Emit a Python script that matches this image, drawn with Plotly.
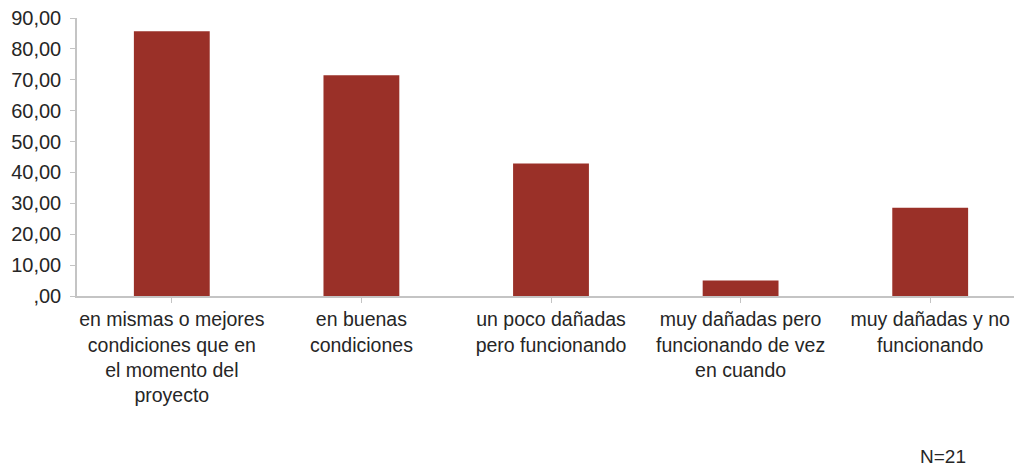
import plotly.graph_objects as go

categories = [
    "en mismas o mejores<br>condiciones que en<br>el momento del<br>proyecto",
    "en buenas<br>condiciones",
    "un poco dañadas<br>pero funcionando",
    "muy dañadas pero<br>funcionando de vez<br>en cuando",
    "muy dañadas y no<br>funcionando",
]
values = [85.71, 71.43, 42.86, 5.0, 28.57]
y_tickvals = [0, 10, 20, 30, 40, 50, 60, 70, 80, 90]
y_ticktext = [",00", "10,00", "20,00", "30,00", "40,00", "50,00", "60,00", "70,00", "80,00", "90,00"]
note = "N=21"

FONT = "Liberation Sans, Arial, sans-serif"

L, T = 77, 18
PLOT_H = 277.7
W, H = 1014, 466
B = H - T - PLOT_H
PLOT_W = W - L

fig = go.Figure(
    go.Bar(
        x=list(range(len(categories))),
        y=values,
        marker=dict(color="#9a3028", line=dict(width=0)),
        width=0.4,
    )
)

fig.update_layout(
    width=W,
    height=H,
    margin=dict(l=L, r=0, t=T, b=B),
    paper_bgcolor="white",
    plot_bgcolor="white",
    showlegend=False,
    font=dict(family=FONT, color="#262626"),
)

fig.update_xaxes(
    range=[-0.5, -0.5 + PLOT_W / 189.6],
    tickmode="array",
    tickvals=list(range(len(categories))),
    ticktext=categories,
    tickson="boundaries",
    ticks="outside",
    ticklen=5,
    tickcolor="#c4c4c4",
    showline=True,
    linecolor="#c4c4c4",
    linewidth=1.5,
    showgrid=False,
    zeroline=False,
    ticklabeloverflow="allow",
    tickfont=dict(size=19.5, family=FONT, color="#262626"),
    tickangle=0,
    automargin=False,
)

fig.update_yaxes(
    range=[0, 90],
    tickmode="array",
    tickvals=y_tickvals,
    ticktext=y_ticktext,
    ticks="outside",
    ticklen=5,
    tickcolor="#c4c4c4",
    showline=True,
    linecolor="#c4c4c4",
    linewidth=1.5,
    showgrid=False,
    zeroline=False,
    ticklabelstandoff=5,
    ticklabeloverflow="allow",
    tickfont=dict(size=20, family=FONT, color="#262626"),
    automargin=False,
)

fig.add_annotation(
    text=note,
    xref="paper", yref="paper",
    x=(943 - L) / PLOT_W, y=-(456 - (T + PLOT_H)) / PLOT_H,
    xanchor="center", yanchor="middle",
    showarrow=False,
    font=dict(size=19, family=FONT, color="#262626"),
)

fig.write_html(
    "out.html",
    config={"displayModeBar": False},
    post_script="document.body.style.margin='0';document.body.style.overflow='hidden';",
)
